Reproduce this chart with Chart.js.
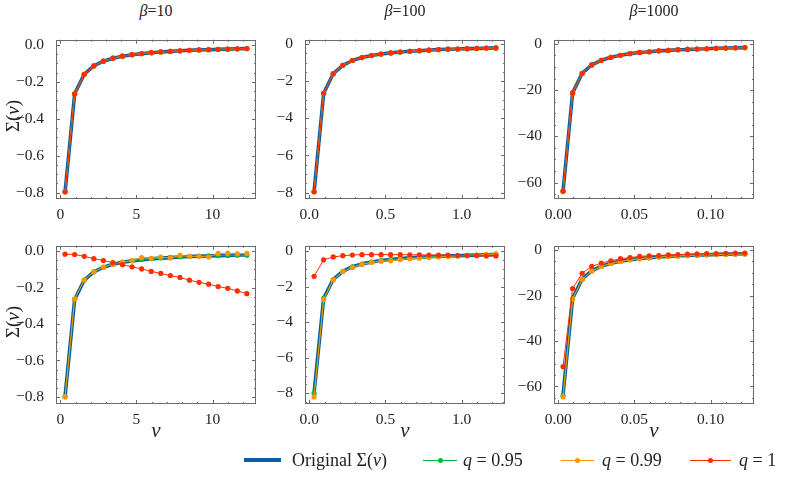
<!DOCTYPE html>
<html>
<head>
<meta charset="utf-8">
<script src="https://cdn.jsdelivr.net/npm/chart.js@4.4.1/dist/chart.umd.min.js"></script>
<style>
  html, body { margin:0; padding:0; background:#fff; }
  #wrap { position:relative; width:789px; height:479px; overflow:hidden; font-family:"Liberation Serif", serif; color:#222; }
  canvas { position:absolute; }
  .lbl { position:absolute; white-space:nowrap; font-size:16px; line-height:1; }
  .it { font-style:italic; }
  .ttl { transform:translate(-50%,-50%); }
  .ylab { transform:translate(-50%,-50%) rotate(-90deg); font-size:19px; }
  .xlab { transform:translate(-50%,-50%); font-size:21px; }
  .leg { position:absolute; font-size:18px; line-height:1; transform:translateY(-50%); white-space:nowrap; }
  .lline { position:absolute; }
  .ldot { position:absolute; width:5px; height:5px; border-radius:50%; }
</style>
</head>
<body>
<div id="wrap">
  <canvas id="c00" width="256" height="200" style="left:6px;top:28px"></canvas>
  <canvas id="c01" width="256" height="200" style="left:255px;top:28px"></canvas>
  <canvas id="c02" width="256" height="200" style="left:504px;top:28px"></canvas>
  <canvas id="c10" width="256" height="199" style="left:6px;top:234px"></canvas>
  <canvas id="c11" width="256" height="199" style="left:255px;top:234px"></canvas>
  <canvas id="c12" width="256" height="199" style="left:504px;top:234px"></canvas>

  <div class="lbl ttl" style="left:156px;top:11px"><span class="it">β</span>=10</div>
  <div class="lbl ttl" style="left:405px;top:11px"><span class="it">β</span>=100</div>
  <div class="lbl ttl" style="left:654px;top:11px"><span class="it">β</span>=1000</div>

  <div class="lbl ylab" style="left:12px;top:116px">Σ(<span class="it">ν</span>)</div>
  <div class="lbl ylab" style="left:12px;top:322px">Σ(<span class="it">ν</span>)</div>

  <div class="lbl xlab it" style="left:156px;top:430px">ν</div>
  <div class="lbl xlab it" style="left:405px;top:430px">ν</div>
  <div class="lbl xlab it" style="left:654px;top:430px">ν</div>

  <div class="lline" style="left:244px;top:458px;width:37px;height:4px;background:#0C5DA5"></div>
  <div class="leg" style="left:292px;top:460px">Original Σ(<span class="it">ν</span>)</div>
  <div class="lline" style="left:423px;top:459.5px;width:34px;height:1px;background:#00B945"></div>
  <div class="ldot" style="left:437.5px;top:457.5px;background:#00B945"></div>
  <div class="leg" style="left:463px;top:460px"><span class="it">q</span> = 0.95</div>
  <div class="lline" style="left:561px;top:459.5px;width:33px;height:1px;background:#FF9500"></div>
  <div class="ldot" style="left:575px;top:457.5px;background:#FF9500"></div>
  <div class="leg" style="left:602px;top:460px"><span class="it">q</span> = 0.99</div>
  <div class="lline" style="left:690px;top:459.5px;width:41px;height:1px;background:#FF2C00"></div>
  <div class="ldot" style="left:708px;top:457.5px;background:#FF2C00"></div>
  <div class="leg" style="left:739px;top:460px"><span class="it">q</span> = 1</div>
</div>
<script>
// ---------------- data ----------------
const NU_10   = [0.314,0.942,1.571,2.199,2.827,3.456,4.084,4.712,5.341,5.969,6.597,7.226,7.854,8.482,9.111,9.739,10.367,10.996,11.624,12.252];
const NU_100  = [0.0314,0.0942,0.1571,0.2199,0.2827,0.3456,0.4084,0.4712,0.5341,0.5969,0.6597,0.7226,0.7854,0.8482,0.9111,0.9739,1.0367,1.0996,1.1624,1.2252];
const NU_1000 = [0.00314,0.00942,0.01571,0.02199,0.02827,0.03456,0.04084,0.04712,0.05341,0.05969,0.06597,0.07226,0.07854,0.08482,0.09111,0.09739,0.10367,0.10996,0.11624,0.12252];

const ORIG_10   = [-0.796,-0.265,-0.159,-0.114,-0.088,-0.072,-0.061,-0.053,-0.047,-0.042,-0.038,-0.035,-0.032,-0.029,-0.027,-0.026,-0.024,-0.023,-0.021,-0.020];
const ORIG_100  = [-7.96,-2.65,-1.59,-1.14,-0.88,-0.72,-0.61,-0.53,-0.47,-0.42,-0.38,-0.35,-0.32,-0.29,-0.27,-0.26,-0.24,-0.23,-0.21,-0.20];
const ORIG_1000 = [-63.7,-21.2,-12.7,-9.1,-7.1,-5.8,-4.9,-4.2,-3.7,-3.4,-3.0,-2.8,-2.5,-2.4,-2.2,-2.1,-1.9,-1.8,-1.7,-1.6];

// top row: approximations coincide with the original
const TOP_Q_10   = [-0.796,-0.265,-0.159,-0.114,-0.088,-0.072,-0.061,-0.053,-0.047,-0.042,-0.038,-0.035,-0.032,-0.029,-0.027,-0.026,-0.024,-0.023,-0.021,-0.020];
const TOP_Q_100  = [-7.96,-2.65,-1.59,-1.14,-0.88,-0.72,-0.61,-0.53,-0.47,-0.42,-0.38,-0.35,-0.32,-0.29,-0.27,-0.26,-0.24,-0.23,-0.21,-0.20];
const TOP_Q_1000 = [-63.7,-21.2,-12.7,-9.1,-7.1,-5.8,-4.9,-4.2,-3.7,-3.4,-3.0,-2.8,-2.5,-2.4,-2.2,-2.1,-1.9,-1.8,-1.7,-1.6];

// bottom row
const Q95_10  = [-0.798,-0.264,-0.158,-0.113,-0.088,-0.072,-0.061,-0.053,-0.046,-0.041,-0.037,-0.034,-0.031,-0.029,-0.027,-0.025,-0.024,-0.023,-0.022,-0.022];
const Q99_10  = [-0.800,-0.262,-0.157,-0.113,-0.087,-0.071,-0.060,-0.051,-0.035,-0.039,-0.032,-0.037,-0.023,-0.028,-0.028,-0.032,-0.012,-0.011,-0.014,-0.012];
const Q1_10   = [-0.016,-0.018,-0.028,-0.041,-0.051,-0.063,-0.074,-0.086,-0.097,-0.111,-0.122,-0.134,-0.144,-0.159,-0.171,-0.181,-0.194,-0.204,-0.218,-0.233];

const Q95_100 = [-8.0,-2.66,-1.60,-1.14,-0.89,-0.73,-0.62,-0.54,-0.48,-0.43,-0.39,-0.35,-0.32,-0.30,-0.28,-0.26,-0.24,-0.22,-0.20,-0.19];
const Q99_100 = [-8.2,-2.72,-1.62,-1.15,-0.93,-0.75,-0.64,-0.57,-0.55,-0.48,-0.43,-0.40,-0.36,-0.33,-0.30,-0.27,-0.25,-0.22,-0.19,-0.16];
const Q1_100  = [-1.42,-0.49,-0.33,-0.26,-0.22,-0.20,-0.20,-0.20,-0.20,-0.20,-0.21,-0.21,-0.22,-0.23,-0.23,-0.25,-0.25,-0.26,-0.27,-0.27];

const Q95_1000 = [-64.0,-21.4,-12.9,-9.2,-7.2,-5.9,-5.0,-4.3,-3.8,-3.4,-3.1,-2.8,-2.6,-2.4,-2.3,-2.1,-2.0,-1.9,-1.8,-1.7];
const Q99_1000 = [-64.5,-21.5,-12.9,-9.3,-7.2,-5.9,-5.0,-4.3,-3.8,-3.4,-3.1,-2.8,-2.6,-2.4,-2.2,-2.1,-2.0,-1.9,-1.8,-1.7];
const Q1_1000  = [-51.3,-16.9,-10.2,-7.2,-5.7,-4.7,-3.8,-3.3,-2.8,-2.5,-2.4,-2.1,-2.0,-1.8,-1.7,-1.6,-1.6,-1.4,-1.3,-1.3];

// tick labels
const X_TICKS_10 = [0, 5, 10];
const X_TICKS_100 = [0.0, 0.5, 1.0];
const X_TICKS_1000 = [0.00, 0.05, 0.10];
const Y_TICKS_10 = [-0.8, -0.6, -0.4, -0.2, 0.0];
const Y_TICKS_100 = [-8, -6, -4, -2, 0];
const Y_TICKS_1000 = [-60, -40, -20, 0];

// ---------------- drawing ----------------
const COLORS = { orig:'#0C5DA5', q95:'#00B945', q99:'#FF9500', q1:'#FF2C00' };
const FONT = { family:'"Liberation Serif", serif', size:15.5, lineHeight:1 };

function fmt(v, dec) {
  let s = Math.abs(v) < 1e-12 ? (0).toFixed(dec) : v.toFixed(dec);
  return s.replace('-', '\u2212');
}

const frameTicks = {
  id:'frameTicks',
  afterDatasetsDraw(chart, args, o) {
    const {ctx, chartArea:a} = chart;
    const xs = chart.scales.x, ys = chart.scales.y;
    ctx.save();
    ctx.strokeStyle = '#6a6a6a';
    ctx.lineWidth = 1;
    ctx.strokeRect(Math.round(a.left)+0.5, Math.round(a.top)+0.5, Math.round(a.right-a.left)-1, Math.round(a.bottom-a.top)-1);
    const majL = 4, minL = 2;
    ctx.beginPath();
    const eps = 1e-9;
    function isMajor(v, list){ return list.some(t => Math.abs(t - v) < 1e-6); }
    const xStart = Math.ceil(xs.min / o.xMinor) * o.xMinor;
    for (let v = xStart; v <= xs.max + eps; v += o.xMinor) {
      const p = Math.round(xs.getPixelForValue(v)) + 0.5;
      const L = isMajor(v, o.xTicks) ? majL : minL;
      ctx.moveTo(p, a.bottom); ctx.lineTo(p, a.bottom - L);
      ctx.moveTo(p, a.top); ctx.lineTo(p, a.top + L);
    }
    const yStart = Math.ceil(ys.min / o.yMinor) * o.yMinor;
    for (let v = yStart; v <= ys.max + eps; v += o.yMinor) {
      const p = Math.round(ys.getPixelForValue(v)) + 0.5;
      const L = isMajor(v, o.yTicks) ? majL : minL;
      ctx.moveTo(a.left, p); ctx.lineTo(a.left + L, p);
      ctx.moveTo(a.right, p); ctx.lineTo(a.right - L, p);
    }
    ctx.stroke();
    ctx.restore();
  }
};

function pts(nu, ys) { return nu.map((x, i) => ({x, y: ys[i]})); }

function makeChart(id, nu, s, xr, yr, xTicks, yTicks, xMinor, yMinor, xDec, yDec) {
  const qds = (key, data, label, ord) => ({
    label, data: pts(nu, data), borderColor: COLORS[key], backgroundColor: COLORS[key],
    borderWidth: 1, pointRadius: 2.6, pointBorderWidth: 0, pointHoverRadius: 2.6, order: ord, tension: 0
  });
  new Chart(document.getElementById(id), {
    type: 'line',
    data: { datasets: [
      { label:'Original Σ(ν)', data: pts(nu, s.orig), borderColor: COLORS.orig, borderWidth: 3.6,
        pointRadius: 0, order: 4, tension: 0, borderJoinStyle:'round', borderCapStyle:'round' },
      qds('q95', s.q95, 'q = 0.95', 3),
      qds('q99', s.q99, 'q = 0.99', 2),
      qds('q1', s.q1, 'q = 1', 1)
    ]},
    options: {
      responsive: false, animation: false,
      layout: { padding: { top: 6, right: 6, left: 0, bottom: 0 } },
      plugins: { legend: { display: false }, tooltip: { enabled: false },
        frameTicks: { xTicks, yTicks, xMinor, yMinor } },
      scales: {
        x: { type: 'linear', min: xr[0], max: xr[1],
          grid: { display: false }, border: { display: false },
          afterBuildTicks: sc => { sc.ticks = xTicks.map(v => ({ value: v })); },
          afterFit: sc => { sc.height = 29; },
          ticks: { font: FONT, color: '#222', padding: 0, maxRotation: 0, autoSkip: false,
            callback: v => fmt(v, xDec) } },
        y: { type: 'linear', min: yr[0], max: yr[1],
          grid: { display: false }, border: { display: false },
          afterBuildTicks: sc => { sc.ticks = yTicks.map(v => ({ value: v })); },
          afterFit: sc => { sc.width = 50; },
          ticks: { font: FONT, color: '#222', padding: 4, autoSkip: false,
            callback: v => fmt(v, yDec) } }
      }
    },
    plugins: [frameTicks]
  });
}

const XR10 = [-0.283, 12.85], XR100 = [-0.0283, 1.285], XR1000 = [-0.0028, 0.1285];

makeChart('c00', NU_10,   {orig:ORIG_10,   q95:TOP_Q_10,   q99:TOP_Q_10,   q1:TOP_Q_10},   XR10,   [-0.835, 0.028], X_TICKS_10,   Y_TICKS_10,   1,    0.05, 0, 1);
makeChart('c01', NU_100,  {orig:ORIG_100,  q95:TOP_Q_100,  q99:TOP_Q_100,  q1:TOP_Q_100},  XR100,  [-8.35, 0.24],   X_TICKS_100,  Y_TICKS_100,  0.1,  0.5,  1, 0);
makeChart('c02', NU_1000, {orig:ORIG_1000, q95:TOP_Q_1000, q99:TOP_Q_1000, q1:TOP_Q_1000}, XR1000, [-67.1, 1.8],    X_TICKS_1000, Y_TICKS_1000, 0.01, 5,    2, 0);
makeChart('c10', NU_10,   {orig:ORIG_10,   q95:Q95_10,   q99:Q99_10,   q1:Q1_10},   XR10,   [-0.839, 0.03], X_TICKS_10,   Y_TICKS_10,   1,    0.05, 0, 1);
makeChart('c11', NU_100,  {orig:ORIG_100,  q95:Q95_100,  q99:Q99_100,  q1:Q1_100},  XR100,  [-8.6, 0.3],    X_TICKS_100,  Y_TICKS_100,  0.1,  0.5,  1, 0);
makeChart('c12', NU_1000, {orig:ORIG_1000, q95:Q95_1000, q99:Q99_1000, q1:Q1_1000}, XR1000, [-67.7, 1.9],   X_TICKS_1000, Y_TICKS_1000, 0.01, 5,    2, 0);
</script>
</body>
</html>
